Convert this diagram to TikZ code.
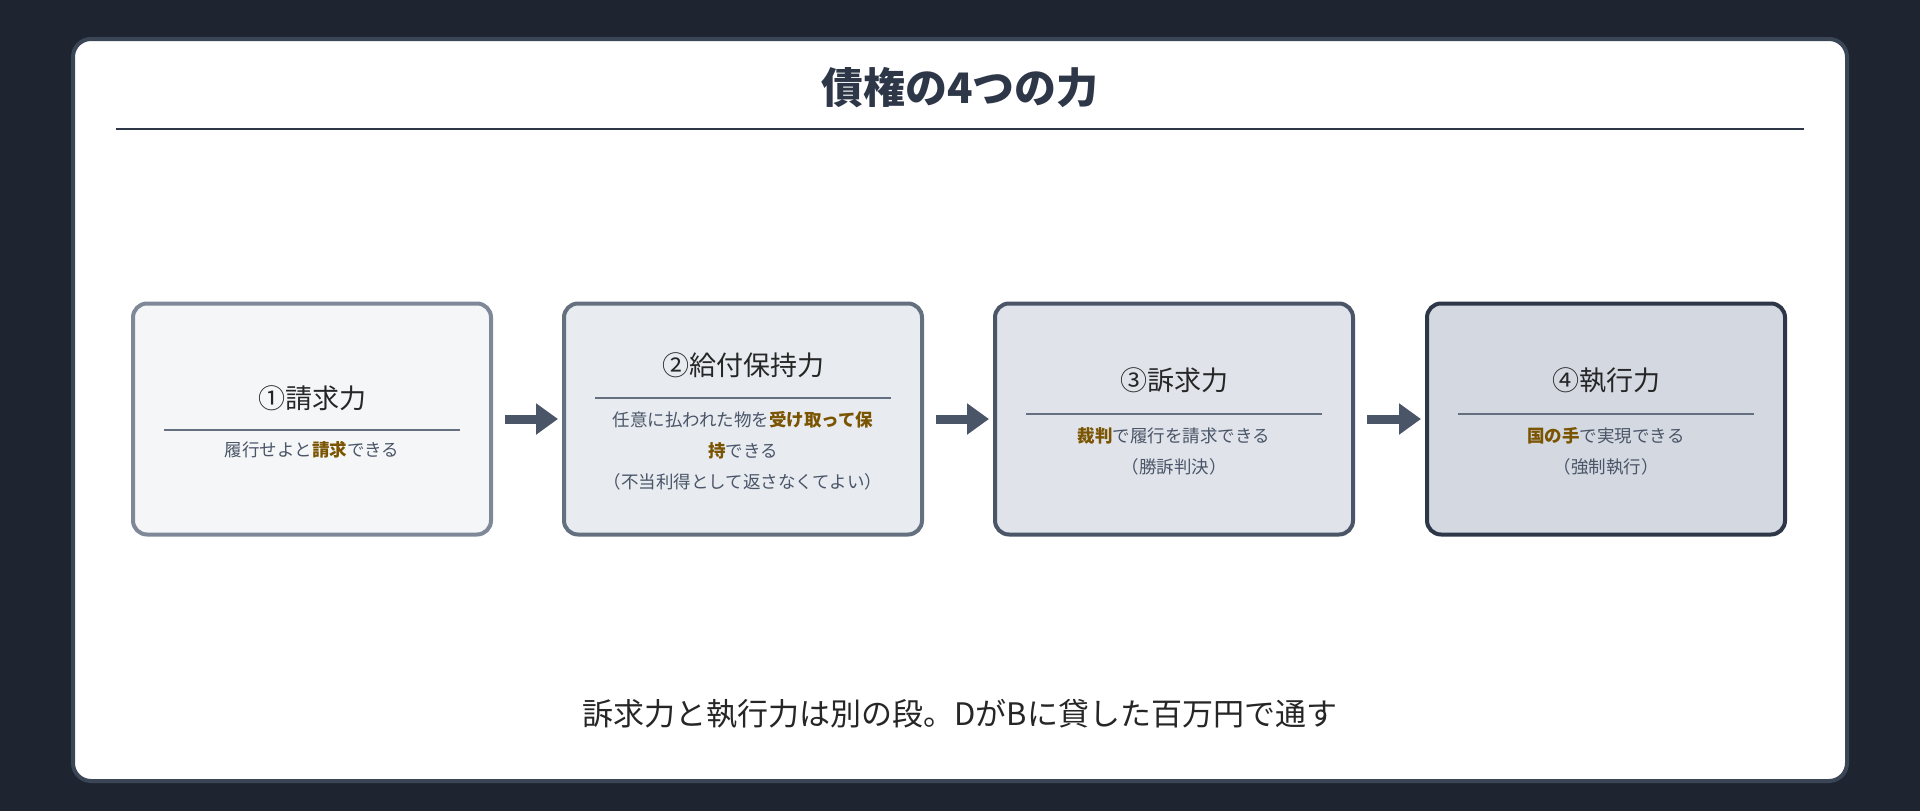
\documentclass[tikz,border=0pt]{standalone}
\usepackage{fontspec}
\setmainfont{Noto Sans CJK JP}
\usetikzlibrary{arrows.meta,positioning}
\definecolor{pagebg}{HTML}{1E2530}
\definecolor{panelline}{HTML}{3A4556}
\definecolor{inkdark}{HTML}{2D3748}
\definecolor{inkgray}{HTML}{4A5568}
\definecolor{keybrown}{HTML}{7A5400}
\definecolor{edgeA}{HTML}{7F8898}
\definecolor{edgeB}{HTML}{64707F}
\definecolor{edgeC}{HTML}{4A5568}
\definecolor{edgeD}{HTML}{2D3748}
\definecolor{fillA}{HTML}{F5F6F8}
\definecolor{fillB}{HTML}{E8ECF0}
\definecolor{fillC}{HTML}{E0E4EA}
\definecolor{fillD}{HTML}{D4D9E1}
\newcommand{\key}[1]{\textbf{\textcolor{keybrown}{#1}}}

\begin{document}
\begin{tikzpicture}[
        x=1pt, y=-1pt,
        power/.style={rectangle, draw, line width=4pt, rounded corners=14pt, minimum width=358pt, minimum height=231pt},
        head/.style={font=\fontsize{27}{32}\selectfont, text=black!85},
        body/.style={font=\fontsize{17.5}{31}\selectfont, text=inkgray, align=center},
        advance/.style={-{Triangle[length=22pt,width=30pt]}, line width=9pt, inkgray}
    ]
        % Background and panel
        \fill[pagebg] (0,0) rectangle (1920,811);
        \draw[panelline, fill=white, line width=4pt, rounded corners=18pt] (73,39) rectangle (1847,781);

        % Title
        \node[font=\fontsize{42}{48}\selectfont\bfseries, text=inkdark] (title) at (960,88) {債権の4つの力};
        \draw[inkdark, line width=2pt] (116,129) -- (1804,129);

        % Boxes
        \node[power, draw=edgeA, fill=fillA] (p1) at (312,419) {};
        \node[power, draw=edgeB, fill=fillB] (p2) at (743,419) {};
        \node[power, draw=edgeC, fill=fillC] (p3) at (1174,419) {};
        \node[power, draw=edgeD, fill=fillD] (p4) at (1606,419) {};

        % Box texts
        \node[head] at (312,398) {①請求力};
        \draw[edgeB, line width=2pt] (164,430) -- (460,430);
        \node[body] at (312,450) {履行せよと\key{請求}できる};

        \node[head] at (743,365) {②給付保持力};
        \draw[edgeB, line width=2pt] (595,398) -- (891,398);
        \node[body] at (743,451) {任意に払われた物を\key{受け取って保}\\\key{持}できる\\（不当利得として返さなくてよい）};

        \node[head] at (1174,380) {③訴求力};
        \draw[edgeB, line width=2pt] (1026,414) -- (1322,414);
        \node[body] at (1174,451) {\key{裁判}で履行を請求できる\\（勝訴判決）};

        \node[head] at (1606,380) {④執行力};
        \draw[edgeB, line width=2pt] (1458,414) -- (1754,414);
        \node[body] at (1606,451) {\key{国の手}で実現できる\\（強制執行）};

        % Arrows
        \coordinate[right=12pt of p1.east] (a1);
        \coordinate[right=12pt of p2.east] (a2);
        \coordinate[right=12pt of p3.east] (a3);
        \coordinate[left=4pt of p2.west] (b1);
        \coordinate[left=4pt of p3.west] (b2);
        \coordinate[left=4pt of p4.west] (b3);
        \draw[advance] (a1) -- (b1);
        \draw[advance] (a2) -- (b2);
        \draw[advance] (a3) -- (b3);

        % Footer
        \node[font=\fontsize{31}{36}\selectfont, text=black!85] (note) at (960,714) {訴求力と執行力は別の段。DがBに貸した百万円で通す};
    \end{tikzpicture}
\end{document}
